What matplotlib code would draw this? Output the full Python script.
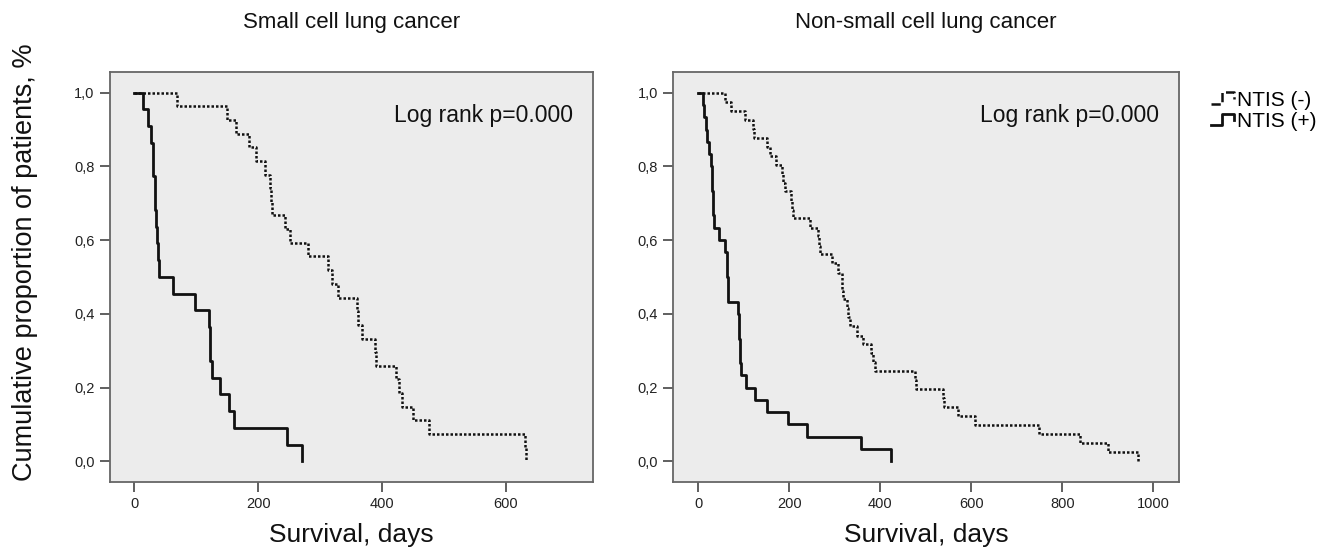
import matplotlib
matplotlib.use('Agg')
import matplotlib.pyplot as plt
from matplotlib.lines import Line2D
from matplotlib.legend_handler import HandlerBase

plt.rcParams['font.family'] = ['Liberation Sans', 'DejaVu Sans']

# Small cell lung cancer, NTIS (+)  (survival after each drop)
sclc_pos_days = [0, 14, 22, 28, 30, 31, 33, 34, 36, 37, 39, 40, 62, 99, 121, 122, 123, 126, 138, 153, 161, 247, 271]
sclc_pos_surv = [1.0, 0.955, 0.909, 0.864, 0.818, 0.773, 0.727, 0.682, 0.636, 0.591, 0.545, 0.5,
                 0.455, 0.409, 0.364, 0.318, 0.273, 0.227, 0.182, 0.136, 0.091, 0.045, 0.0]

# Small cell lung cancer, NTIS (-)
sclc_neg_days = [0, 69, 150, 165, 186, 197, 211, 219, 221, 222, 244, 251, 280, 313, 319, 329,
                 360, 361, 367, 389, 390, 423, 428, 432, 450, 476, 630, 632]
sclc_neg_surv = [1.0, 0.963, 0.926, 0.889, 0.852, 0.815, 0.778, 0.741, 0.704, 0.667, 0.630, 0.593,
                 0.556, 0.519, 0.481, 0.444, 0.407, 0.370, 0.333, 0.296, 0.259, 0.222, 0.185,
                 0.148, 0.111, 0.074, 0.037, 0.0]

# Non-small cell lung cancer, NTIS (+)
nsclc_pos_days = [0, 11, 12, 18, 19, 24, 29, 30, 31, 32, 33, 35, 46, 59, 63, 64, 65, 66,
                  88, 89, 90, 91, 92, 94, 106, 125, 152, 198, 240, 358, 423]
nsclc_pos_surv = [1.0, 0.967, 0.933, 0.9, 0.867, 0.833, 0.8, 0.767, 0.733, 0.7, 0.667, 0.633,
                  0.6, 0.567, 0.533, 0.5, 0.467, 0.433, 0.4, 0.367, 0.333, 0.3, 0.267, 0.233,
                  0.2, 0.167, 0.133, 0.1, 0.067, 0.033, 0.0]

# Non-small cell lung cancer, NTIS (-)
nsclc_neg_days = [0, 59, 73, 103, 120, 123, 152, 158, 172, 184, 187, 190, 205, 207, 209, 245,
                  264, 266, 268, 293, 308, 315, 317, 319, 326, 330, 334, 350, 363, 380, 385,
                  388, 476, 479, 538, 541, 570, 608, 750, 839, 901, 966]
nsclc_neg_surv = [1.0, 0.976, 0.951, 0.927, 0.902, 0.878, 0.854, 0.829, 0.805, 0.780, 0.756,
                  0.732, 0.707, 0.683, 0.659, 0.634, 0.610, 0.585, 0.561, 0.537, 0.512, 0.488,
                  0.463, 0.439, 0.415, 0.390, 0.366, 0.341, 0.317, 0.293, 0.268, 0.244, 0.220,
                  0.195, 0.171, 0.146, 0.122, 0.098, 0.073, 0.049, 0.024, 0.0]

y_ticks = [0.0, 0.2, 0.4, 0.6, 0.8, 1.0]
y_tick_labels = ['0,0', '0,2', '0,4', '0,6', '0,8', '1,0']
left_x_ticks = [0, 200, 400, 600]
right_x_ticks = [0, 200, 400, 600, 800, 1000]

titles = ['Small cell lung cancer', 'Non-small cell lung cancer']
legend_labels = ['NTIS (-)', 'NTIS (+)']


class StepHandler(HandlerBase):
    # little step glyph like the SPSS legend
    def create_artists(self, legend, orig_handle, xdescent, ydescent, width, height, fontsize, trans):
        x0, y0 = -xdescent, -ydescent
        xs = [x0, x0 + 0.45 * width, x0 + 0.45 * width, x0 + width, x0 + width]
        ys = [y0 + 0.15 * height, y0 + 0.15 * height, y0 + 0.95 * height, y0 + 0.95 * height, y0 + 0.5 * height]
        line = Line2D(xs, ys, color=orig_handle.get_color(), linestyle=orig_handle.get_linestyle(),
                      linewidth=orig_handle.get_linewidth(), transform=trans)
        return [line]


fig = plt.figure(figsize=(13.41, 5.53), dpi=100)
ax1 = fig.add_axes([0.082, 0.128, 0.360, 0.741])
ax2 = fig.add_axes([0.502, 0.128, 0.377, 0.741])

dotted = (0, (1.0, 0.8))

for ax, neg_d, neg_s, pos_d, pos_s, xt, xlim, title in [
        (ax1, sclc_neg_days, sclc_neg_surv, sclc_pos_days, sclc_pos_surv, left_x_ticks, (-39, 740), titles[0]),
        (ax2, nsclc_neg_days, nsclc_neg_surv, nsclc_pos_days, nsclc_pos_surv, right_x_ticks, (-55, 1056), titles[1])]:
    ax.set_facecolor('#ececec')
    h_neg, = ax.step(neg_d, neg_s, where='post', color='#111111', linestyle=dotted, linewidth=1.8)
    h_pos, = ax.step(pos_d, pos_s, where='post', color='#111111', linestyle='-', linewidth=2.0)
    ax.set_xlim(*xlim)
    ax.set_ylim(-0.057, 1.055)
    ax.set_xticks(xt)
    ax.set_yticks(y_ticks)
    ax.set_yticklabels(y_tick_labels)
    ax.tick_params(direction='out', length=7, width=1.2, color='#444444', labelsize=10.5,
                   labelcolor='#222222', pad=4)
    for s in ax.spines.values():
        s.set_color('#666666')
        s.set_linewidth(1.3)
    ax.set_title(title, fontsize=16, pad=32, color='#111111')
    ax.set_xlabel('Survival, days', fontsize=19, labelpad=8, color='#111111')
    ax.text(0.96, 0.895, 'Log rank p=0.000', transform=ax.transAxes, ha='right', va='center',
            fontsize=16.5, color='#111111')

fig.text(0.019, 0.525, 'Cumulative proportion of patients, %', rotation=90, ha='center', va='center',
         fontsize=19.5, color='#111111')

fig.legend([h_neg, h_pos], legend_labels, handler_map={Line2D: StepHandler()},
           loc='upper left', bbox_to_anchor=(0.897, 0.85), frameon=False, fontsize=15,
           handlelength=1.1, handletextpad=0.15, labelspacing=0.1, borderaxespad=0)

fig.savefig('out.png', dpi=100, facecolor='white')
